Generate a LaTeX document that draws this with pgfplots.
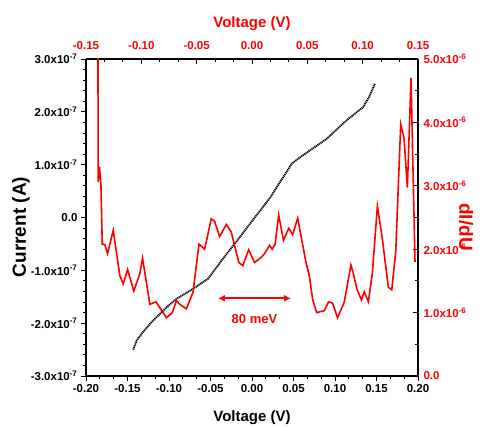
\documentclass[border=0pt]{standalone}
\usepackage{fontspec}
\setmainfont{Liberation Sans}
\usepackage{pgfplots}
\pgfplotsset{compat=1.18}
\usetikzlibrary{arrows.meta}
\definecolor{myred}{RGB}{255,0,0}
\begin{document}
\begin{tikzpicture}
\useasboundingbox (-86pt,-51pt) rectangle (397pt,376pt);
\pgfplotsset{
  common/.style={
    scale only axis, width=332pt, height=317pt,
    at={(0,0)}, anchor=south west,
    scaled x ticks=false, scaled y ticks=false,
    axis line style={line width=1.2pt, black},
    major tick length=5pt, minor tick length=3pt,
    every tick/.style={black, line width=0.9pt},
    tick label style={font=\bfseries\fontsize{11.5}{13}\selectfont},
    label style={font=\bfseries\fontsize{15}{17}\selectfont},
  }
}
\begin{axis}[common,
  axis x line*=bottom, axis y line*=left,
  tick align=outside,
  xmin=-0.2, xmax=0.2, ymin=-3e-7, ymax=3e-7,
  xtick={-0.2,-0.15,-0.1,-0.05,0,0.05,0.1,0.15,0.2},
  xticklabels={-0.20,-0.15,-0.10,-0.05,0.00,0.05,0.10,0.15,0.20},
  ytick={-3e-7,-2e-7,-1e-7,0,1e-7,2e-7,3e-7},
  yticklabels={-3.0x10\textsuperscript{-7},-2.0x10\textsuperscript{-7},-1.0x10\textsuperscript{-7},0.0,1.0x10\textsuperscript{-7},2.0x10\textsuperscript{-7},3.0x10\textsuperscript{-7}},
  minor x tick num=2, minor y tick num=4,
  xlabel={Voltage (V)}, ylabel={Current (A)},
  xlabel style={at={(axis description cs:0.5,0)}, anchor=north, yshift=-31pt},
  ylabel style={at={(axis description cs:-0.196,0.47)}, anchor=center, font=\bfseries\fontsize{19}{21}\selectfont},
]
\addplot[black, line width=1.8pt, dash pattern=on 1.1pt off 0.7pt] coordinates {
(-0.143,-2.50e-7) (-0.139,-2.33e-7) (-0.133,-2.20e-7) (-0.121,-1.98e-7) (-0.103,-1.70e-7)
(-0.091,-1.54e-7) (-0.071,-1.35e-7) (-0.053,-1.16e-7) (-0.035,-0.78e-7) (-0.018,-0.44e-7)
(-0.002,-0.11e-7) (0.022,0.38e-7) (0.048,1.02e-7) (0.058,1.14e-7) (0.090,1.49e-7)
(0.114,1.84e-7) (0.134,2.09e-7) (0.142,2.31e-7) (0.148,2.53e-7)
};
\draw[myred, line width=2pt, {Latex[length=7pt,width=7pt]}-{Latex[length=7pt,width=7pt]}]
  (axis cs:-0.041,-1.53e-7) -- (axis cs:0.047,-1.53e-7);
\node[myred, font=\bfseries\fontsize{13}{15}\selectfont] at (axis cs:0.003,-1.92e-7) {80 meV};
\end{axis}
\begin{axis}[common,
  axis x line*=top, axis y line*=right,
  tick align=inside,
  xmin=-0.15, xmax=0.15, ymin=0, ymax=5e-6,
  xtick={-0.15,-0.1,-0.05,0,0.05,0.1,0.15},
  xticklabels={-0.15,-0.10,-0.05,0.00,0.05,0.10,0.15},
  ytick={0,1e-6,2e-6,3e-6,4e-6,5e-6},
  yticklabels={0.0,1.0x10\textsuperscript{-6},2.0x10\textsuperscript{-6},3.0x10\textsuperscript{-6},4.0x10\textsuperscript{-6},5.0x10\textsuperscript{-6}},
  minor x tick num=2, minor y tick num=1,
  tick label style={myred},
  xticklabel style={yshift=6pt},
  yticklabel style={xshift=2pt},
  xlabel={Voltage (V)}, ylabel={dI/dU},
  label style={myred},
  xlabel style={at={(axis description cs:0.5,1)}, anchor=base, yshift=31pt},
  ylabel style={at={(axis description cs:1.145,0.47)}, anchor=center, rotate=180, font=\bfseries\fontsize{19}{21}\selectfont},
]
\addplot[myred, line width=1.6pt] coordinates {
(-0.1392,5.60e-6) (-0.1390,3.06e-6) (-0.1378,3.30e-6) (-0.1365,3.01e-6) (-0.1353,2.08e-6)
(-0.1329,2.07e-6) (-0.1305,1.93e-6) (-0.1254,2.30e-6) (-0.1194,1.58e-6) (-0.1164,1.45e-6)
(-0.1124,1.68e-6) (-0.1068,1.34e-6) (-0.1014,1.61e-6) (-0.0989,1.86e-6) (-0.0923,1.13e-6)
(-0.0869,1.17e-6) (-0.0773,0.92e-6) (-0.0719,1.00e-6) (-0.0683,1.19e-6) (-0.0653,1.13e-6)
(-0.0593,1.06e-6) (-0.0533,1.32e-6) (-0.0479,2.08e-6) (-0.0428,2.00e-6) (-0.0404,2.19e-6)
(-0.0368,2.48e-6) (-0.0338,2.44e-6) (-0.0293,2.20e-6) (-0.0232,2.39e-6) (-0.0187,2.27e-6)
(-0.0158,2.06e-6) (-0.0119,1.79e-6) (-0.0083,1.74e-6) (-0.0030,1.99e-6) (0.0023,1.79e-6)
(0.0083,1.87e-6) (0.0113,1.93e-6) (0.0158,2.06e-6) (0.0182,2.00e-6) (0.0209,2.08e-6)
(0.0241,2.54e-6) (0.0284,2.14e-6) (0.0332,2.33e-6) (0.0368,2.23e-6) (0.0413,2.49e-6)
(0.0488,1.79e-6) (0.0518,1.58e-6) (0.0548,1.21e-6) (0.0584,1.00e-6) (0.0653,1.03e-6)
(0.0692,1.17e-6) (0.0728,1.15e-6) (0.0773,0.92e-6) (0.0833,1.16e-6) (0.0894,1.75e-6)
(0.0914,1.63e-6) (0.0948,1.37e-6) (0.0989,1.20e-6) (0.1014,1.33e-6) (0.1052,1.17e-6)
(0.1088,1.63e-6) (0.1133,2.68e-6) (0.1178,2.16e-6) (0.1232,1.40e-6) (0.1263,1.36e-6)
(0.1299,1.96e-6) (0.1344,3.97e-6) (0.1374,3.75e-6) (0.1404,2.97e-6) (0.1437,4.70e-6)
(0.1473,1.80e-6)
};
\end{axis}
\end{tikzpicture}
\end{document}
